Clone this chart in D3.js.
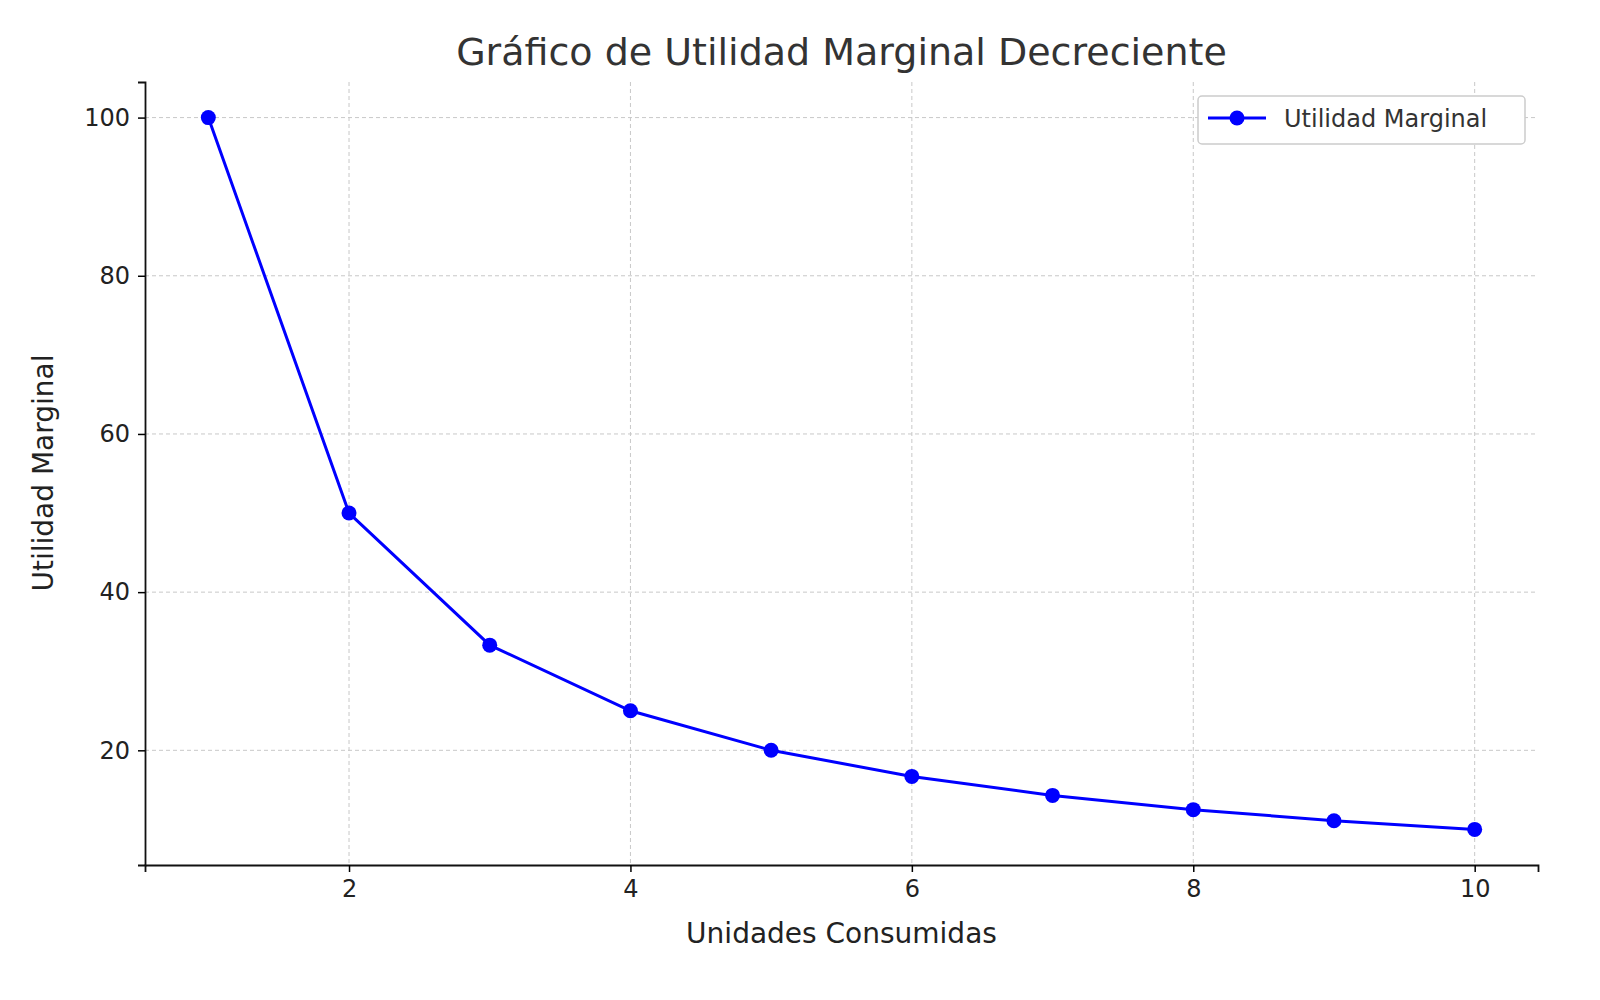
<!DOCTYPE html>
<html><head><meta charset="utf-8">
<script src="https://cdn.jsdelivr.net/npm/d3@7"></script>
<style>body{margin:0;background:#fff}text{font-family:"DejaVu Sans",sans-serif;fill:#222}</style>
</head><body>
<svg id="chart" width="1600" height="1000"></svg>
<script>
// unidades consumidas y utilidad marginal
const units = [1, 2, 3, 4, 5, 6, 7, 8, 9, 10];
const utility = [100, 50, 33.3, 25, 20, 16.7, 14.3, 12.5, 11.1, 10];
const xTicks = [2, 4, 6, 8, 10];
const yTicks = [20, 40, 60, 80, 100];

const svg = d3.select("#chart");
const plotLeft = 145, plotRight = 1538, plotTop = 82, plotBottom = 865;

const x = d3.scaleLinear().domain([0.55, 10.45]).range([plotLeft, plotRight]);
const y = d3.scaleLinear().domain([5.5, 104.5]).range([plotBottom, plotTop]);

const grid = svg.append("g").attr("stroke", "#c8c8c8").attr("stroke-dasharray", "4,3").attr("stroke-width", 1);
xTicks.forEach(t => grid.append("line").attr("x1", x(t)).attr("x2", x(t)).attr("y1", plotTop).attr("y2", plotBottom));
yTicks.forEach(t => grid.append("line").attr("x1", plotLeft).attr("x2", plotRight).attr("y1", y(t)).attr("y2", y(t)));

svg.append("g").attr("transform", `translate(0,${plotBottom})`)
    .call(d3.axisBottom(x).tickValues(xTicks).tickSize(7).tickPadding(8))
    .call(g => g.selectAll("text").style("font-size", "24px"));
svg.append("g").attr("transform", `translate(${plotLeft},0)`)
    .call(d3.axisLeft(y).tickValues(yTicks).tickSize(7).tickPadding(8))
    .call(g => g.selectAll("text").style("font-size", "24px"));
svg.selectAll(".domain").attr("stroke-width", 1.8).attr("stroke", "#111");
svg.selectAll(".tick line").attr("stroke-width", 1.5);

const pts = units.map((u, i) => [u, utility[i]]);
svg.append("path").datum(pts)
    .attr("fill", "none").attr("stroke", "#0000ff").attr("stroke-width", 3)
    .attr("d", d3.line().x(d => x(d[0])).y(d => y(d[1])));
svg.selectAll(".pt").data(pts).join("circle")
    .attr("cx", d => x(d[0])).attr("cy", d => y(d[1])).attr("r", 7.5).attr("fill", "#0000ff");

svg.append("text").attr("x", (plotLeft + plotRight) / 2).attr("y", 65).attr("text-anchor", "middle")
    .style("font-size", "38px").style("fill", "#333").text("Gráfico de Utilidad Marginal Decreciente");
svg.append("text").attr("x", (plotLeft + plotRight) / 2).attr("y", 943).attr("text-anchor", "middle")
    .style("font-size", "28px").text("Unidades Consumidas");
svg.append("text").attr("transform", "translate(53,473) rotate(-90)").attr("text-anchor", "middle")
    .style("font-size", "28px").text("Utilidad Marginal");

// leyenda
const lg = svg.append("g").attr("transform", "translate(1198,96)");
lg.append("rect").attr("width", 327).attr("height", 48).attr("rx", 4)
    .attr("fill", "#fff").attr("stroke", "#ccc").attr("stroke-width", 1.5);
lg.append("line").attr("x1", 10).attr("x2", 68).attr("y1", 22).attr("y2", 22).attr("stroke", "#0000ff").attr("stroke-width", 3);
lg.append("circle").attr("cx", 39).attr("cy", 22).attr("r", 7.5).attr("fill", "#0000ff");
lg.append("text").attr("x", 86).attr("y", 31).style("font-size", "24px").style("fill", "#333").text("Utilidad Marginal");
</script>
</body></html>
